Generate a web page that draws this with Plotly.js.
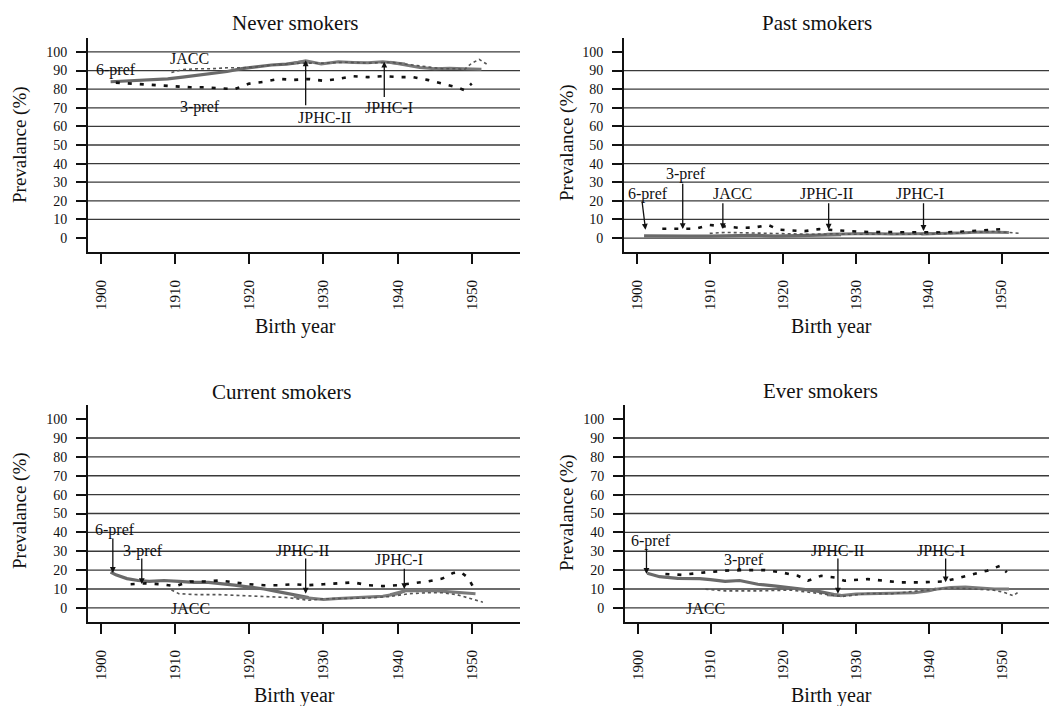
<!DOCTYPE html>
<html>
<head>
<meta charset="utf-8">
<script src="https://cdn.plot.ly/plotly-3.0.1.min.js"></script>
<style>html,body{margin:0;padding:0;background:#fff;}#chart{width:1049px;height:706px;}</style>
</head>
<body>
<div id="chart"></div>
<script>
// ---------------- DATA ----------------
const panelTitles = ['Never smokers', 'Past smokers', 'Current smokers', 'Ever smokers'];
const seriesNames = ['6-pref', 'JPHC-II', 'JPHC-I', '3-pref', 'JACC'];
const xTickVals = [1900, 1910, 1920, 1930, 1940, 1950];
const yTickVals = [0, 10, 20, 30, 40, 50, 60, 70, 80, 90, 100];
const gridLevels = [10, 20, 30, 40, 50, 60, 70, 80, 90];

// Never smokers
const never_6pref_x = [1901.3, 1903, 1905, 1907, 1909, 1911, 1913, 1915, 1917, 1919, 1921, 1923, 1925, 1927, 1928];
const never_6pref_y = [84, 84.3, 85, 85, 85.5, 86.5, 87.5, 88.5, 89.5, 91, 92, 93, 93.5, 94.5, 94.5];
const never_jphc2_x = [1926, 1927.6, 1929.7, 1932, 1934, 1936, 1938, 1940, 1941];
const never_jphc2_y = [94, 95.3, 93.5, 94.7, 94.4, 94.2, 94.7, 94, 93.5];
const never_jphc1_x = [1939, 1941, 1943, 1945, 1947, 1949, 1951.3];
const never_jphc1_y = [94.5, 93, 91.7, 91, 91.3, 91, 90.7];
const never_3pref_x = [1902, 1904, 1906, 1908, 1910, 1912, 1914, 1916, 1918, 1920, 1922, 1924, 1926, 1928, 1930, 1932, 1934, 1936, 1938, 1940, 1942, 1944, 1946, 1948, 1949, 1950];
const never_3pref_y = [83.5, 83, 82.5, 82, 81.5, 81, 81, 80.5, 80, 83, 84, 85.5, 85, 85.5, 84.5, 85.5, 87, 86.5, 87, 86.5, 86.5, 85, 83, 81, 79.5, 83];
const never_jacc_x = [1909.5, 1911, 1913, 1915, 1917, 1919, 1921, 1923, 1925, 1927, 1930, 1933, 1936, 1939, 1942, 1944, 1946, 1948, 1949, 1950, 1951, 1952];
const never_jacc_y = [89, 90.5, 91, 91, 91.5, 91.5, 92, 93, 93.5, 94, 94, 94.5, 94, 94.5, 93, 92, 91, 91, 90.5, 94, 96, 93.5];

// Past smokers
const past_6pref_x = [1901, 1904, 1907, 1910, 1913, 1916, 1919, 1922, 1925, 1928];
const past_6pref_y = [1.2, 1.3, 1, 1, 1.2, 1.5, 1, 1.3, 1.5, 1.8];
const past_jphc2_x = [1926, 1929, 1932, 1935, 1938, 1941];
const past_jphc2_y = [2, 2.3, 2.5, 2.2, 2.3, 2.5];
const past_jphc1_x = [1939, 1942, 1945, 1947, 1949, 1951];
const past_jphc1_y = [2.2, 2.4, 2.8, 3.2, 3, 3];
const past_3pref_x = [1903.5, 1906, 1908, 1910, 1912, 1914, 1916, 1918, 1919.5, 1921, 1923, 1925, 1927, 1929, 1931, 1933, 1936, 1939, 1942, 1945, 1948, 1950];
const past_3pref_y = [5, 4.8, 5, 7, 6.2, 5.5, 5.6, 7, 4.5, 4, 3.7, 4.8, 4.3, 3.7, 3.3, 3.2, 3, 2.8, 3, 3.5, 4.2, 4.8];
const past_jacc_x = [1910, 1912, 1915, 1918, 1921, 1924, 1927, 1930, 1934, 1938, 1942, 1946, 1949, 1951, 1952.5];
const past_jacc_y = [2.5, 3, 2.8, 2.5, 2.2, 2, 2.3, 2, 2.2, 2, 2.3, 2.8, 3.5, 3, 2.5];

// Current smokers
const current_6pref_x = [1901.3, 1902, 1903.5, 1905, 1906.5, 1908.5, 1910.5, 1912.5, 1914.5, 1916, 1918, 1920, 1922, 1924, 1926, 1928];
const current_6pref_y = [19, 17.5, 15.5, 14.5, 14, 14.5, 14, 13.5, 13.5, 13, 12, 11, 10, 8.5, 7, 5.5];
const current_jphc2_x = [1926, 1928, 1930, 1932, 1934, 1936, 1938, 1940, 1941];
const current_jphc2_y = [6, 5.3, 4.4, 5, 5.3, 5.6, 6.2, 7.5, 9];
const current_jphc1_x = [1939, 1941, 1943, 1945, 1947, 1949, 1950.5];
const current_jphc1_y = [7, 9, 9, 9, 8.5, 8, 7.5];
const current_3pref_x = [1904, 1906, 1908, 1910, 1912, 1914, 1916, 1918, 1920, 1922, 1924, 1926, 1928, 1930, 1932, 1934, 1936, 1938, 1940, 1942, 1944, 1946, 1947.5, 1948.5, 1949.5, 1950.2];
const current_3pref_y = [12.5, 13, 12.5, 11.5, 14, 14, 14.5, 13.5, 12.5, 12, 12, 12.5, 12, 12.5, 13, 13.5, 12, 11.5, 12, 13, 14, 15.5, 18.5, 19, 16, 11];
const current_jacc_x = [1909.5, 1910.5, 1913, 1916, 1919, 1922, 1925, 1928, 1930, 1933, 1936, 1939, 1941.5, 1944, 1946, 1948, 1950, 1951.5];
const current_jacc_y = [9.5, 7.5, 7, 7, 6.5, 6, 5.5, 4, 4.8, 5, 5.2, 6, 7.5, 8, 8, 7, 4.5, 3];

// Ever smokers
const ever_6pref_x = [1901.3, 1903, 1905.5, 1908.5, 1910, 1912, 1914, 1916.5, 1919, 1922, 1924.5, 1927, 1928];
const ever_6pref_y = [18.3, 16.5, 15.6, 15.5, 15, 14, 14.5, 12.5, 11.5, 10, 9, 7, 6.5];
const ever_jphc2_x = [1926, 1928, 1930, 1932, 1934, 1936, 1938, 1940, 1941];
const ever_jphc2_y = [7, 6.5, 7.3, 7.5, 8, 7.8, 8, 9, 10];
const ever_jphc1_x = [1939, 1941, 1943, 1945, 1947, 1949, 1951];
const ever_jphc1_y = [9, 10, 10.8, 11, 10.5, 10, 10];
const ever_3pref_x = [1903.8, 1906, 1909.3, 1912, 1915.2, 1917.5, 1919.7, 1922, 1923.4, 1925.2, 1927.1, 1928.4, 1931.6, 1933.9, 1936.1, 1938.9, 1942.1, 1945.3, 1948, 1949.8, 1950.7];
const ever_3pref_y = [17.9, 17.5, 18.8, 19.7, 20, 20, 18.8, 17, 14.4, 17, 16.1, 14.4, 15.2, 14.4, 13.5, 13.5, 14, 17, 19.7, 22.3, 18.8];
const ever_jacc_x = [1909.3, 1912, 1916.5, 1921, 1925.6, 1928, 1931.6, 1935, 1938.5, 1943, 1946, 1948.9, 1950.5, 1951.6, 1952.5];
const ever_jacc_y = [9.9, 9, 9, 9.4, 7.3, 6, 7.6, 7.5, 9, 10.5, 10, 9.4, 8, 6.4, 9];

const panelData = [
  [[never_6pref_x, never_6pref_y], [never_jphc2_x, never_jphc2_y], [never_jphc1_x, never_jphc1_y], [never_3pref_x, never_3pref_y], [never_jacc_x, never_jacc_y]],
  [[past_6pref_x, past_6pref_y], [past_jphc2_x, past_jphc2_y], [past_jphc1_x, past_jphc1_y], [past_3pref_x, past_3pref_y], [past_jacc_x, past_jacc_y]],
  [[current_6pref_x, current_6pref_y], [current_jphc2_x, current_jphc2_y], [current_jphc1_x, current_jphc1_y], [current_3pref_x, current_3pref_y], [current_jacc_x, current_jacc_y]],
  [[ever_6pref_x, ever_6pref_y], [ever_jphc2_x, ever_jphc2_y], [ever_jphc1_x, ever_jphc1_y], [ever_3pref_x, ever_3pref_y], [ever_jacc_x, ever_jacc_y]]
];

// ---------------- STYLE / LAYOUT ----------------
const W = 1049, H = 706;
const FONT = 'Liberation Serif, Times New Roman, serif';
const seriesStyle = {
  '6-pref': {color: '#6a6a6a', width: 3.2},
  'JPHC-II': {color: '#7a7a7a', width: 3},
  'JPHC-I': {color: '#7a7a7a', width: 3},
  '3-pref': {color: '#111111', width: 2.6, dash: '4px,8px'},
  'JACC': {color: '#555555', width: 1.6, dash: 'dot'}
};
// plot areas in pixels: [left, right, top, bottom]
const boxes = [[88, 520, 38, 252], [624, 1049, 38, 252], [88, 520, 405, 622], [625, 1049, 405, 622]];

const traces = [];
panelData.forEach((series, p) => {
  const sfx = p === 0 ? '' : String(p + 1);
  series.forEach((xy, s) => {
    const nm = seriesNames[s];
    traces.push({
      type: 'scatter', mode: 'lines', name: nm,
      x: xy[0], y: xy[1], xaxis: 'x' + sfx, yaxis: 'y' + sfx,
      line: Object.assign({}, seriesStyle[nm]), hoverinfo: 'skip', showlegend: false
    });
  });
});

const layout = {
  width: W, height: H, margin: {l: 0, r: 0, t: 0, b: 0},
  paper_bgcolor: '#fff', plot_bgcolor: '#fff', showlegend: false,
  font: {family: FONT, color: '#111'},
  shapes: [], annotations: []
};

boxes.forEach((b, p) => {
  const sfx = p === 0 ? '' : String(p + 1);
  layout['xaxis' + sfx] = {
    domain: [b[0] / W, b[1] / W], anchor: 'y' + sfx, range: [1898.25, 1956.5],
    tickmode: 'array', tickvals: xTickVals, ticktext: xTickVals.map(String), tickangle: -90,
    ticks: 'outside', ticklen: 10, tickwidth: 2, tickcolor: '#111',
    showline: true, linecolor: '#111', linewidth: 2, showgrid: false, zeroline: false,
    tickfont: {family: FONT, size: 15, color: '#111'}, ticklabelstandoff: 10, fixedrange: true
  };
  layout['yaxis' + sfx] = {
    domain: [1 - b[3] / H, 1 - b[2] / H], anchor: 'x' + sfx, range: [-7.5, 107.5],
    tickmode: 'array', tickvals: yTickVals, ticktext: yTickVals.map(String),
    ticks: 'outside', ticklen: 10, tickwidth: 2, tickcolor: '#111',
    showline: true, linecolor: '#111', linewidth: 2, showgrid: false, zeroline: false,
    tickfont: {family: FONT, size: 14, color: '#111'}, ticklabelstandoff: 6, fixedrange: true
  };
  const levels = gridLevels.slice();
  if (p === 0) levels.push(100); else levels.push(0);
  levels.forEach(lv => {
    layout.shapes.push({
      type: 'line', xref: 'x' + sfx + ' domain', x0: 0, x1: 1, yref: 'y' + sfx, y0: lv, y1: lv,
      line: {color: '#3a3a3a', width: 1.3}, layer: 'below'
    });
  });
});

// panel titles, axis titles (pixel positions)
const titlePos = [[295, 23], [817, 23], [281, 392], [820, 391]];
const xTitlePos = [[295, 326], [831, 326], [294, 695], [831, 695]];
const yTitlePos = [[20, 145], [567, 143], [20, 511], [567, 513]];
titlePos.forEach((pt, p) => {
  layout.annotations.push({xref: 'paper', yref: 'paper', x: pt[0] / W, y: 1 - pt[1] / H, text: panelTitles[p],
    showarrow: false, xanchor: 'center', yanchor: 'middle', font: {family: FONT, size: 21, color: '#111'}});
  layout.annotations.push({xref: 'paper', yref: 'paper', x: xTitlePos[p][0] / W, y: 1 - xTitlePos[p][1] / H, text: 'Birth year',
    showarrow: false, xanchor: 'center', yanchor: 'middle', font: {family: FONT, size: 20, color: '#111'}});
  layout.annotations.push({xref: 'paper', yref: 'paper', x: yTitlePos[p][0] / W, y: 1 - yTitlePos[p][1] / H, text: 'Prevalance (%)',
    textangle: -90, showarrow: false, xanchor: 'center', yanchor: 'middle', font: {family: FONT, size: 19, color: '#111'}});
});

// series labels: [panel, text, x, y]
const labels = [
  [0, '6-pref', 1902, 90.4], [0, 'JACC', 1911.9, 96.3], [0, '3-pref', 1913.3, 70.5], [0, 'JPHC-II', 1930.1, 65], [0, 'JPHC-I', 1938.8, 70],
  [1, '6-pref', 1901.6, 23.5], [1, '3-pref', 1906.7, 34.2], [1, 'JACC', 1913.1, 24], [1, 'JPHC-II', 1926, 24], [1, 'JPHC-I', 1938.8, 24],
  [2, '6-pref', 1901.9, 41], [2, '3-pref', 1905.6, 30.3], [2, 'JPHC-II', 1927.2, 30.3], [2, 'JPHC-I', 1940.2, 25.5], [2, 'JACC', 1912.1, -0.3],
  [3, '6-pref', 1901.8, 35.6], [3, '3-pref', 1914.6, 25.5], [3, 'JPHC-II', 1927.4, 30.3], [3, 'JPHC-I', 1941.6, 30.3], [3, 'JACC', 1909.3, -0.3]
];
labels.forEach(l => {
  const sfx = l[0] === 0 ? '' : String(l[0] + 1);
  layout.annotations.push({xref: 'x' + sfx, yref: 'y' + sfx, x: l[2], y: l[3], text: l[1], showarrow: false,
    xanchor: 'center', yanchor: 'middle', font: {family: FONT, size: 16, color: '#111'}});
});

// pointer lines: [panel, tailX, tailY, headX, headY]
const pointers = [
  [0, 1927.6, 70.6, 1927.6, 95.5], [0, 1938.2, 75, 1938.2, 94.8],
  [1, 1900.7, 20.5, 1901.2, 4.5], [1, 1906.3, 30, 1906.3, 4.8], [1, 1911.8, 19.5, 1911.8, 4.8], [1, 1926.3, 19.5, 1926.3, 4.5], [1, 1939.3, 19.5, 1939.3, 3.8],
  [2, 1901.6, 37.5, 1901.6, 18.5], [2, 1905.5, 27, 1905.5, 12.6], [2, 1927.6, 27, 1927.6, 7.5], [2, 1940.9, 21.5, 1940.9, 10],
  [3, 1901.2, 32, 1901.2, 18], [3, 1927.5, 27, 1927.5, 7.5], [3, 1942.3, 27, 1942.3, 13.5]
];
pointers.forEach(pt => {
  const sfx = pt[0] === 0 ? '' : String(pt[0] + 1);
  layout.annotations.push({xref: 'x' + sfx, yref: 'y' + sfx, axref: 'x' + sfx, ayref: 'y' + sfx,
    x: pt[3], y: pt[4], ax: pt[1], ay: pt[2], text: '', showarrow: true,
    arrowhead: 2, arrowsize: 0.9, arrowwidth: 1.3, arrowcolor: '#111', standoff: 0, startstandoff: 0});
});

Plotly.newPlot('chart', traces, layout, {staticPlot: true, displayModeBar: false});
</script>
</body>
</html>
